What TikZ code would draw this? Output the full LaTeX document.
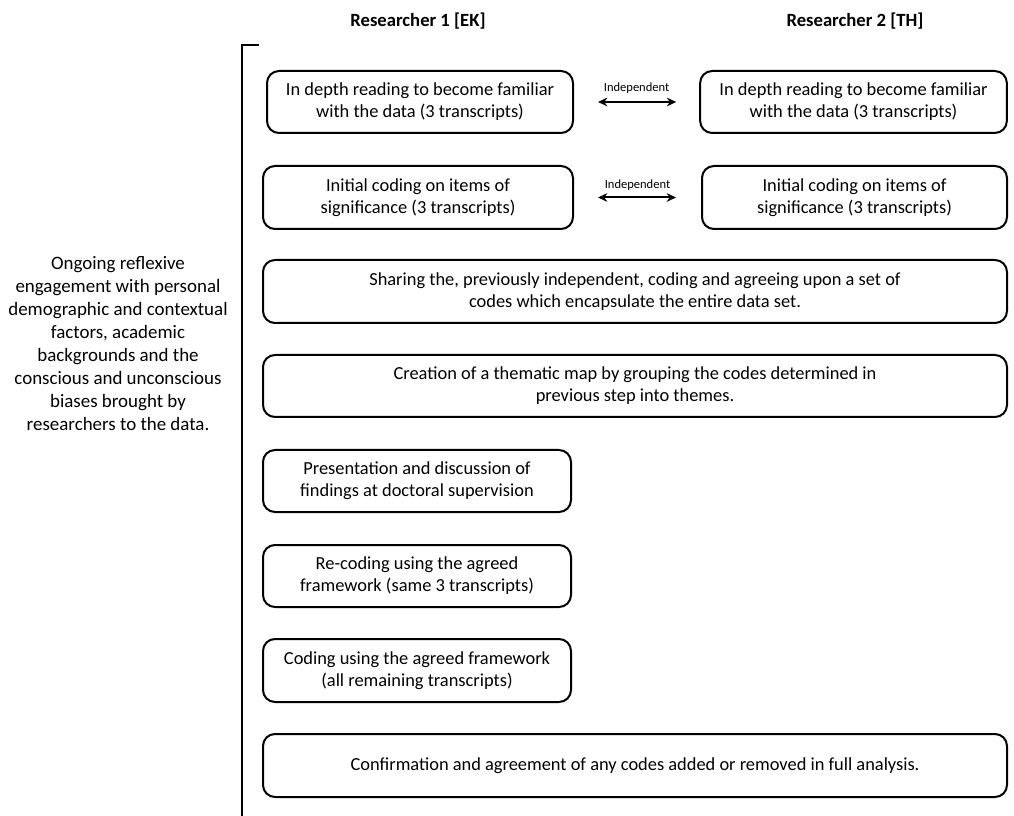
\documentclass[tikz,border=0pt]{standalone}
\usepackage{fontspec}
\setmainfont{Carlito}
\usetikzlibrary{arrows.meta}
\tikzset{
  stepbox/.style={draw=black, line width=1.5pt, rounded corners=9pt, align=center,
    inner sep=0pt, font=\fontsize{13.8}{16.5}\selectfont},
  header/.style={font=\fontsize{14}{16}\selectfont\bfseries},
  indlabel/.style={font=\fontsize{9.4}{11}\selectfont, inner sep=0pt},
  indarrow/.style={{Stealth[length=7pt,width=6.5pt]}-{Stealth[length=7pt,width=6.5pt]}, line width=1.5pt},
  bracket/.style={line width=1.5pt},
}
\begin{document}
\begin{tikzpicture}[x=0.75pt,y=-0.75pt]
\useasboundingbox (0,0) rectangle (1014,816);
% headers
\node[header] (h1) at (418,21) {Researcher 1 [EK]};
\node[header] (h2) at (855,21) {Researcher 2 [TH]};
% bracket
\coordinate (bt) at (259,45);
\coordinate (bc) at (242,45);
\coordinate (bb) at (242,816);
\draw[bracket] (bt) -- (bc) -- (bb);
% left text
\node[align=center, font=\fontsize{14.2}{17.25}\selectfont] (reflex) at (118,343.5)
  {Ongoing reflexive\\engagement with personal\\demographic and contextual\\factors, academic\\backgrounds and the\\conscious and unconscious\\biases brought by\\researchers to the data.};
% row 1
\node[stepbox, minimum width=229.5pt, minimum height=46.5pt] (b1l) at (420,102)
  {In depth reading to become familiar\\with the data (3 transcripts)};
\node[stepbox, minimum width=230pt, minimum height=46.5pt] (b1r) at (853.5,102)
  {In depth reading to become familiar\\with the data (3 transcripts)};
\draw[indarrow, shorten <=18pt, shorten >=17.25pt] (b1l.east) -- node[indlabel, midway, yshift=10.5pt] {Independent} (b1r.west);
% row 2
\node[stepbox, minimum width=232.5pt, minimum height=47.25pt] (b2l) at (418,197.5)
  {Initial coding on items of\\significance (3 transcripts)};
\node[stepbox, minimum width=228.75pt, minimum height=47.25pt] (b2r) at (854.5,197.5)
  {Initial coding on items of\\significance (3 transcripts)};
\draw[indarrow, shorten <=18pt, shorten >=18.75pt] (b2l.east) -- node[indlabel, midway, yshift=9.5pt] {Independent} (b2r.west);
% wide boxes
\node[stepbox, minimum width=558pt, minimum height=47.25pt] (b3) at (635,291.5)
  {Sharing the, previously independent, coding and agreeing upon a set of\\codes which encapsulate the entire data set.};
\node[stepbox, minimum width=558pt, minimum height=46.5pt] (b4) at (635,386)
  {Creation of a thematic map by grouping the codes determined in\\previous step into themes.};
% left-column boxes
\node[stepbox, minimum width=231pt, minimum height=46.5pt] (b5) at (417,481)
  {Presentation and discussion of\\findings at doctoral supervision};
\node[stepbox, minimum width=231pt, minimum height=46.5pt] (b6) at (417,576)
  {Re-coding using the agreed\\framework (same 3 transcripts)};
\node[stepbox, minimum width=231pt, minimum height=47.25pt] (b7) at (417,670.5)
  {Coding using the agreed framework\\(all remaining transcripts)};
\node[stepbox, minimum width=558pt, minimum height=47.25pt] (b8) at (635,765.5)
  {Confirmation and agreement of any codes added or removed in full analysis.};
\end{tikzpicture}
\end{document}
